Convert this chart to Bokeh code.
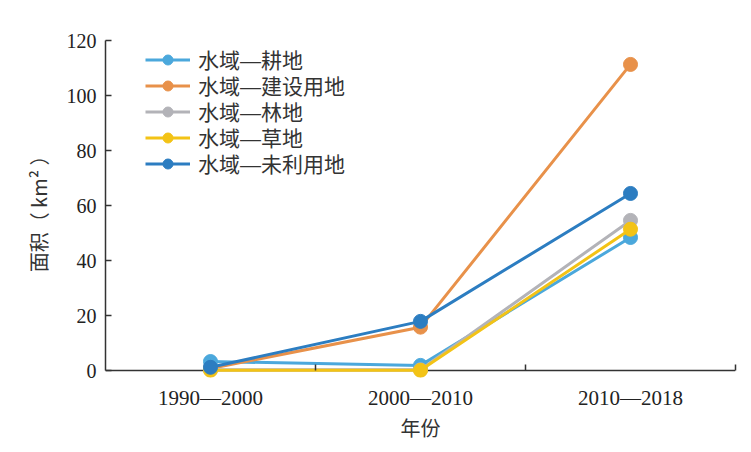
from bokeh.plotting import figure
from bokeh.models import FixedTicker, Range1d, Legend, LegendItem, Span
from bokeh.embed import file_html
from bokeh.resources import INLINE

periods = ["1990—2000", "2000—2010", "2010—2018"]
series_names = ["水域—耕地", "水域—建设用地", "水域—林地", "水域—草地", "水域—未利用地"]
gengdi = [3.3, 1.9, 48.4]
jianshe = [0.8, 15.8, 111.3]
lindi = [0.3, 0.3, 54.6]
caodi = [0.1, 0.1, 51.4]
weiliyong = [1.2, 17.9, 64.4]
series_values = [gengdi, jianshe, lindi, caodi, weiliyong]
colors = ["#4BA8DC", "#E8914A", "#B3B3B8", "#F3C316", "#2C7DC1"]
y_ticks = [0, 20, 40, 60, 80, 100, 120]

xs = [i + 0.5 for i in range(len(periods))]
bounds = [i + 1 for i in range(len(periods))]

p = figure(width=743, height=444, output_backend="svg", toolbar_location=None,
           x_range=Range1d(0, len(periods)), y_range=Range1d(-2.5, 120),
           min_border_left=105, min_border_right=8, min_border_top=40, min_border_bottom=67)
p.outline_line_color = None
p.xgrid.visible = False
p.ygrid.visible = False

serif = "Liberation Serif"
cjk = "Noto Sans CJK SC"
axis_col = "#333333"

# baseline (x axis line at y = 0)
p.add_layout(Span(location=0, dimension="width", line_color=axis_col, line_width=1.5, level="underlay"))

xa = p.xaxis[0]
xa.ticker = FixedTicker(ticks=xs, minor_ticks=bounds)
xa.major_label_overrides = {x: lab for x, lab in zip(xs, periods)}
xa.axis_line_color = None
xa.major_tick_in = 0
xa.major_tick_out = 0
xa.minor_tick_in = 13
xa.minor_tick_out = -7
xa.major_label_text_font = serif
xa.major_label_text_font_size = "21px"
xa.major_label_text_color = "#222222"
xa.major_label_standoff = 8
xa.axis_label = "年份"
xa.axis_label_text_font = cjk
xa.axis_label_text_font_size = "20px"
xa.axis_label_text_font_style = "normal"
xa.axis_label_text_color = axis_col
xa.axis_label_standoff = 0

ya = p.yaxis[0]
ya.bounds = (0, 120)
ya.ticker = FixedTicker(ticks=y_ticks)
ya.axis_line_color = axis_col
ya.axis_line_width = 1.5
ya.major_tick_in = 6
ya.major_tick_out = 0
ya.minor_tick_in = 0
ya.minor_tick_out = 0
ya.major_label_text_font = serif
ya.major_label_text_font_size = "20px"
ya.major_label_text_color = "#222222"
ya.major_label_standoff = 9
ya.axis_label = "面积（ km² ）"
ya.axis_label_text_font = cjk
ya.axis_label_text_font_size = "20px"
ya.axis_label_text_font_style = "normal"
ya.axis_label_text_color = axis_col
ya.axis_label_standoff = 11

for ax in (xa, ya):
    ax.major_tick_line_color = axis_col
    ax.major_tick_line_width = 1.5
    ax.minor_tick_line_color = axis_col
    ax.minor_tick_line_width = 1.5

legend_top = 303
legend_row = 26
for i, (name, vals, c) in enumerate(zip(series_names, series_values, colors)):
    r1 = p.line(xs, vals, line_color=c, line_width=3)
    r2 = p.scatter(xs, vals, size=14, fill_color=c, line_color=c)
    lg = Legend(items=[LegendItem(label=name, renderers=[r1, r2])],
                location=(40, legend_top - legend_row * i), padding=0, spacing=0,
                glyph_width=45, glyph_height=25, label_height=25,
                label_standoff=8, label_text_font="Liberation Sans, Noto Sans CJK SC",
                label_text_font_size="21px",
                label_text_color="#333333", border_line_color=None,
                background_fill_alpha=0, margin=0)
    p.add_layout(lg)

open("out.html", "w").write(file_html(p, INLINE))
